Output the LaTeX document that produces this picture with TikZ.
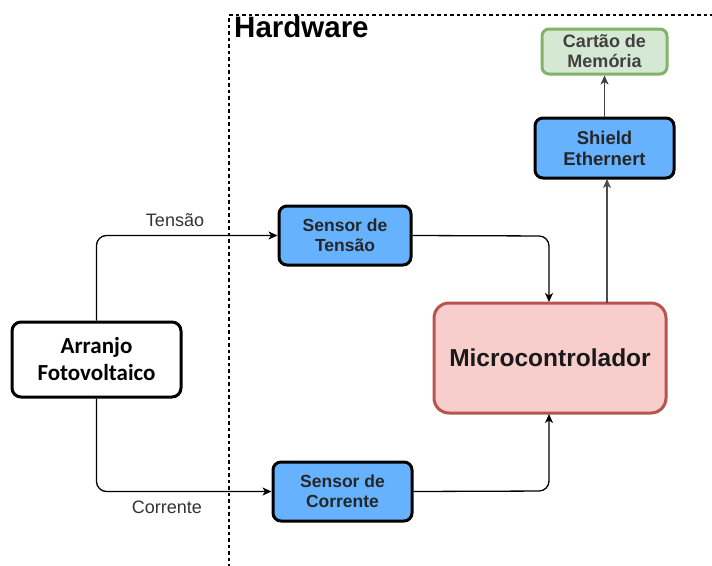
\documentclass[tikz,border=0pt]{standalone}
\usepackage{fontspec}
\setmainfont{Liberation Sans}
\newfontfamily\calib{Carlito}
\usetikzlibrary{arrows.meta}
\definecolor{bluef}{HTML}{66B2FF}
\definecolor{redf}{HTML}{F8CECC}
\definecolor{redd}{HTML}{B85450}
\definecolor{greenf}{HTML}{D5E8D4}
\definecolor{greend}{HTML}{82B366}
\tikzset{
  box/.style={draw=black, line width=3pt, rounded corners=9pt, align=center, inner sep=0pt},
  bluebox/.style={box, fill=bluef, font=\bfseries\fontsize{17.5}{20}\selectfont, text=black!85},
  conn/.style={line width=1.3pt, -{Stealth[length=9pt,width=8pt,inset=2.5pt]}, rounded corners=10pt},
  lbl/.style={font=\fontsize{18}{20}\selectfont, text=black!80},
}
\begin{document}
\begin{tikzpicture}[x=1pt,y=-1pt]
\useasboundingbox (0,0) rectangle (712,565);
\fill[white] (0,0) rectangle (712,565);
% hardware dashed frame
\draw[line width=1.4pt, dash pattern=on 3.5pt off 3pt] (229,600) -- (229,15) -- (760,15);
\node[anchor=north west, font=\bfseries\fontsize{29.5}{32}\selectfont, inner sep=0pt] (hw) at (234,16) {Hardware};
% nodes
\node[box, fill=white, minimum width=169pt, minimum height=75pt, font=\calib\bfseries\fontsize{23}{27}\selectfont] (arr) at (96.5,359.5) {Arranjo\\Fotovoltaico};
\node[bluebox, minimum width=132pt, minimum height=59pt, rounded corners=8pt] (st) at (345,235.5) {Sensor de\\Tensão};
\node[bluebox, minimum width=139pt, minimum height=59pt, rounded corners=8pt] (sc) at (342.5,491.5) {Sensor de\\Corrente};
\node[box, draw=redd, fill=redf, minimum width=232pt, minimum height=110pt, rounded corners=15pt, font=\bfseries\fontsize{24.5}{28}\selectfont, text=black!90] (mc) at (550,358) {Microcontrolador};
\node[bluebox, minimum width=139pt, minimum height=60pt, rounded corners=8pt, font=\bfseries\fontsize{18.5}{21}\selectfont] (sh) at (604.5,148) {Shield\\Ethernert};
\node[box, draw=greend, fill=greenf, minimum width=125pt, minimum height=45pt, rounded corners=7pt, font=\bfseries\fontsize{18}{20}\selectfont, text=black!75] (cm) at (604.5,51.5) {Cartão de\\Memória};
% connectors
\draw[conn] (arr.north) -- (arr.north |- st.west) -- (st.west);
\draw[conn] (arr.south) -- (arr.south |- sc.west) -- (sc.west);
\node[lbl] (lt) at (175,220) {Tensão};
\node[lbl] (lc) at (167,507) {Corrente};
\draw[conn] (st.east) -- (549,236) -- (549,302);
\draw[conn] (sc.east) -- (549,491) -- (549,414);
\draw[conn, draw=black!70] (607,303) -- (607,179);
\draw[conn, draw=black!75] (sh.north) -- (cm.south);
\end{tikzpicture}
\end{document}
